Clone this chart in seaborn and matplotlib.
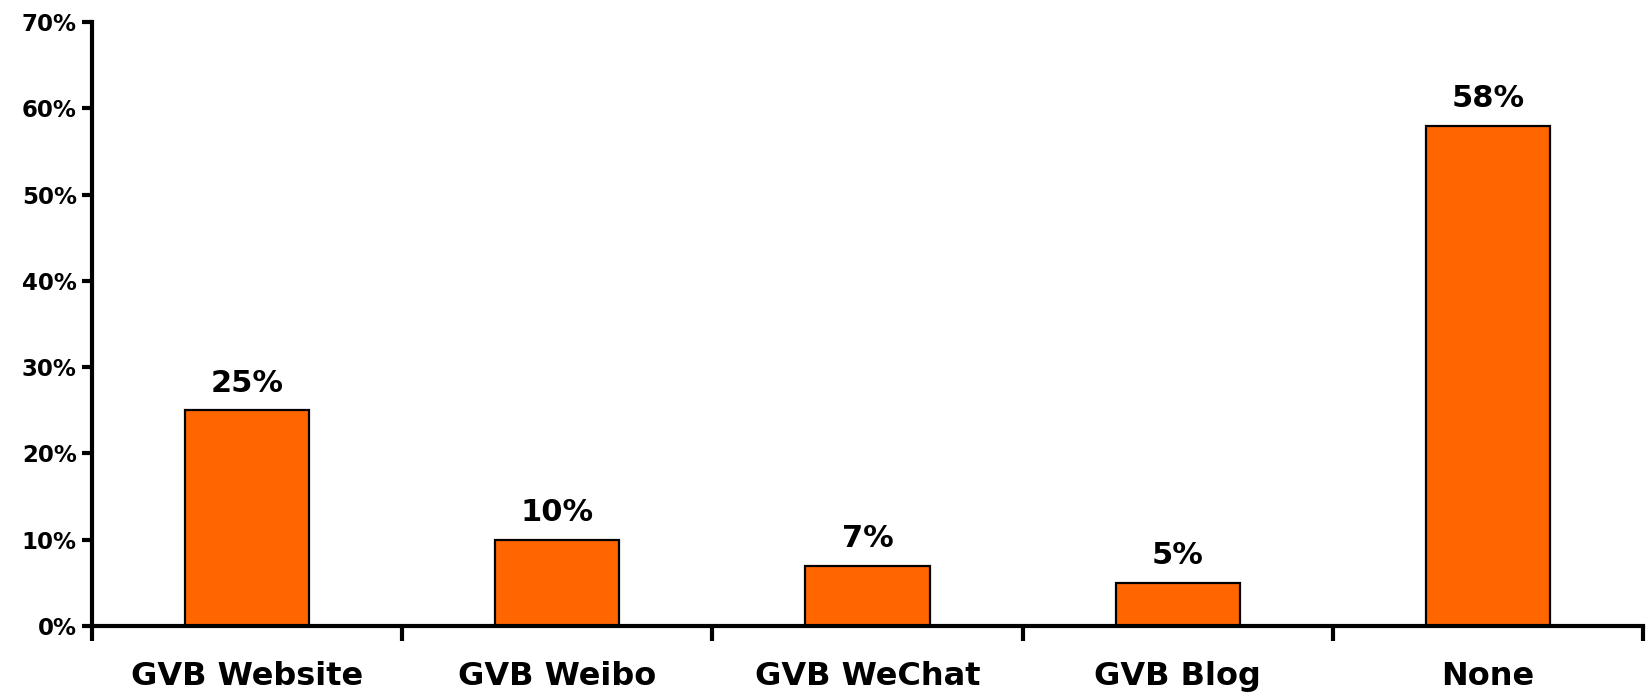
import pandas as pd
import seaborn as sns
import matplotlib.pyplot as plt
from matplotlib.ticker import FixedLocator, PercentFormatter

channels = ["GVB Website", "GVB Weibo", "GVB WeChat", "GVB Blog", "None"]
shares = [25, 10, 7, 5, 58]
y_ticks = [0, 10, 20, 30, 40, 50, 60, 70]

df = pd.DataFrame({"channel": channels, "share": shares})

sns.set_theme(style="white")
plt.rcParams["font.family"] = ["DejaVu Sans"]
plt.rcParams["text.color"] = "black"
plt.rcParams["xtick.color"] = "black"
plt.rcParams["ytick.color"] = "black"

fig = plt.figure(figsize=(16.49, 6.97), dpi=100)
ax = fig.add_axes([0.0558, 0.1019, 0.9406, 0.8665])

sns.barplot(data=df, x="channel", y="share", color="#FF6600", width=0.4,
            edgecolor="black", linewidth=1.6, saturation=1, ax=ax)

ax.set_ylim(0, 70)
ax.set_xlim(-0.5, 4.5)
ax.set_yticks(y_ticks)
ax.yaxis.set_major_formatter(PercentFormatter(decimals=0))
ax.set_xlabel("")
ax.set_ylabel("")

for s in ["top", "right"]:
    ax.spines[s].set_visible(False)
for s in ["left", "bottom"]:
    ax.spines[s].set_linewidth(3)
    ax.spines[s].set_color("black")

ax.tick_params(axis="y", left=True, length=7, width=3, labelsize=16.5, pad=4,
               labelcolor="black")
for t in ax.get_yticklabels():
    t.set_fontweight("bold")

# category separators as ticks below the x axis
ax.xaxis.set_minor_locator(FixedLocator([-0.5, 0.5, 1.5, 2.5, 3.5, 4.5]))
ax.tick_params(axis="x", which="minor", bottom=True, length=11, width=3, direction="out")
ax.tick_params(axis="x", which="major", bottom=False, labelsize=23, pad=19,
               labelcolor="black")
for t in ax.get_xticklabels():
    t.set_fontweight("bold")

for i, v in enumerate(shares):
    ax.annotate(f"{v}%", (i, v), xytext=(0, 9), textcoords="offset points",
                ha="center", va="bottom", fontsize=22, fontweight="bold",
                color="black")

fig.savefig("out.png", dpi=100)
